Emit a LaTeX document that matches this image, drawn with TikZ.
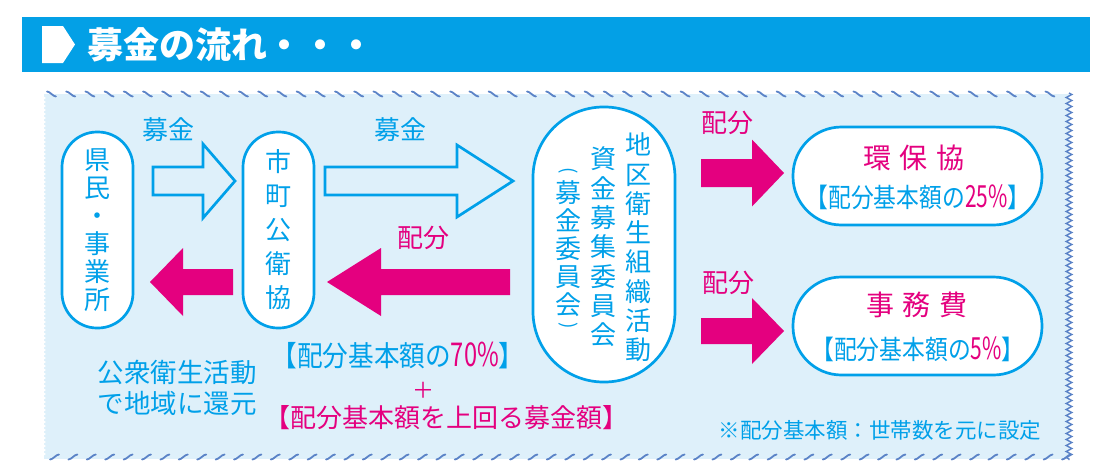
\documentclass[tikz,border=0pt]{standalone}
\usepackage{fontspec}
\newfontfamily\jp{Noto Sans CJK JP}
\usetikzlibrary{calc,decorations.pathmorphing}
\definecolor{cblue}{HTML}{00A0E9}
\definecolor{cbar}{HTML}{03A0E6}
\definecolor{cmag}{HTML}{E4007F}
\definecolor{cbg}{HTML}{DEF0FA}
\definecolor{cwave}{HTML}{5B83C7}
\newcommand\fs[2]{\fontsize{#1}{#2}\selectfont}
\newcommand\pct[1]{\textcolor{cmag}{\scalebox{0.92}[1.15]{#1}}}
\newcommand\blockarrow[6]{%
  \path[#1] let \p1=(#2), \p2=(#3), \n1={ifthenelse(\x2>\x1,1,-1)} in
   (\x1,{\y1-#4pt}) -- ({\x2-\n1*#6pt},{\y1-#4pt}) -- ({\x2-\n1*#6pt},{\y1-#5pt})
   -- (\x2,\y1) -- ({\x2-\n1*#6pt},{\y1+#5pt}) -- ({\x2-\n1*#6pt},{\y1+#4pt})
   -- (\x1,{\y1+#4pt}) -- cycle;}
\begin{document}
\begin{tikzpicture}[x=1pt,y=-1pt,
  every node/.style={font=\jp, inner sep=0pt, outer sep=0pt},
  vbox/.style={draw=cblue, line width=2.7pt, fill=white, rectangle, rounded corners=35pt, minimum width=71pt, minimum height=196pt},
  hbox/.style={draw=cblue, line width=2.7pt, fill=white, rectangle, rounded corners=48.5pt, minimum width=249pt, minimum height=98pt},
  bigbox/.style={draw=cblue, line width=2.7pt, fill=white, rectangle, rounded corners=70.5pt, minimum width=142pt, minimum height=275pt},
  bluetxt/.style={text=cblue},
  magtxt/.style={text=cmag},
  oarrow/.style={draw=cblue, line width=2.7pt, fill=cbg, line join=miter},
  marrow/.style={fill=cmag},
  topmark/.style={draw=cwave, line width=1.8pt, line cap=round}
]
\useasboundingbox (0,0) rectangle (1104,474);
\fill[white] (0,0) rectangle (1104,474);

% title bar
\node[fill=cbar, minimum width=1068pt, minimum height=55pt, anchor=north west] (bar) at (22,17) {};
\fill[white] (42,26) -- (63,26) -- (75,44.5) -- (63,63) -- (42,63) -- cycle;
\node[text=white, font={\jp\bfseries\fs{36}{38}}, anchor=west] (title) at (87,44.5) {募金の流れ・・・};

% panel
\fill[cbg] (44,94) rectangle (1069,459);
\foreach \x in {47,66.2,...,1062} {
  \draw[topmark] (\x,91.5) .. controls ({\x+3},91.5) and ({\x+6},96.5) .. ({\x+9},96.5);
}
\foreach \x in {50,68.4,...,1062} {
  \draw[topmark] (\x,459.5) .. controls ({\x+3},459.5) and ({\x+6},454.5) .. ({\x+9},454.5);
}
\draw[cwave, line width=1.4pt, decorate, decoration={zigzag, amplitude=2.8pt, segment length=6pt}] (1069,93) -- (1069,460);
\draw[white, line width=1pt, decorate, decoration={zigzag, amplitude=1.5pt, segment length=4pt}] (43.5,97) -- (43.5,457);

% boxes
\node[vbox] (kenmin) at (97.5,230) {};
\node[vbox] (shicho) at (278.5,230) {};
\node[bigbox] (big) at (604,244.5) {};
\node[hbox] (kanho) at (917.5,176) {};
\node[hbox] (jimu) at (917.5,326) {};

% box texts
\node[bluetxt, font={\jp\fs{26}{28}}, align=center] (kenmintxt) at (kenmin) {県\\民\\・\\事\\業\\所};
\node[bluetxt, font={\jp\fs{26}{34}}, align=center] (shichotxt) at (shicho) {市\\町\\公\\衛\\協};
\node[bluetxt, font={\jp\fs{26}{29.3}}, align=center] (col1) at (638,247.5) {地\\区\\衛\\生\\組\\織\\活\\動};
\node[bluetxt, font={\jp\fs{26}{29.3}}, align=center] (col2) at (603,247) {資\\金\\募\\集\\委\\員\\会};
\node[bluetxt, font={\jp\fs{26}{28}}, align=center] (col3) at (568,249) {募\\金\\委\\員\\会};
\node[bluetxt, font={\jp\fs{19}{20}}, rotate=-90] (lparen) at (568,171) {(};
\node[bluetxt, font={\jp\fs{19}{20}}, rotate=-90] (rparen) at (568,326) {)};
\node[magtxt, font={\jp\fs{28}{30}}] (kanhot) at (914,158) {環\hspace{9pt}保\hspace{9pt}協};
\node[bluetxt, font={\jp\fs{26.5}{28}}] (kanhop) at (918,197) {\scalebox{0.86}[1]{【配分基本額の\pct{25\%}】}};
\node[magtxt, font={\jp\fs{28}{30}}] (jimut) at (917,305) {事\hspace{9pt}務\hspace{9pt}費};
\node[bluetxt, font={\jp\fs{26.5}{28}}] (jimup) at (918,349) {\scalebox{0.86}[1]{【配分基本額の\pct{5\%}】}};

% connector labels
\node[bluetxt, font={\jp\fs{26}{28}}] (lab1) at (168,130) {募金};
\node[bluetxt, font={\jp\fs{26}{28}}] (lab2) at (400,130) {募金};
\node[magtxt, font={\jp\fs{26}{28}}] (lab3) at (423,238) {配分};
\node[magtxt, font={\jp\fs{26}{28}}] (lab4) at (727,123) {配分};
\node[magtxt, font={\jp\fs{26}{28}}] (lab5) at (728,283) {配分};

% block arrows
\coordinate (a1t) at ($(kenmin.east)+(20,-49)$);
\coordinate (a1h) at ($(shicho.west)+(-8,-49)$);
\coordinate (a2t) at ($(shicho.east)+(11,-49)$);
\coordinate (a2h) at ($(big.west)+(-20,-63.5)$);
\coordinate (m1t) at ($(shicho.west)+(-10,52)$);
\coordinate (m1h) at ($(kenmin.east)+(17,52)$);
\coordinate (m2t) at ($(big.west)+(-23,37.5)$);
\coordinate (m2h) at ($(shicho.east)+(13,52)$);
\coordinate (m3t) at ($(big.east)+(26,-71.5)$);
\coordinate (m3h) at ($(kanho.west)+(-9,-3)$);
\coordinate (m4t) at ($(big.east)+(26,86.5)$);
\coordinate (m4h) at ($(jimu.west)+(-9,5)$);
\blockarrow{oarrow}{a1t}{a1h}{14}{37}{32}
\blockarrow{oarrow}{a2t}{a2h}{14}{36}{56}
\blockarrow{marrow}{m1t}{m1h}{13}{34}{33}
\blockarrow{marrow}{m2t}{m2h}{13}{34}{54}
\blockarrow{marrow}{m3t}{m3h}{14}{33.5}{32}
\blockarrow{marrow}{m4t}{m4h}{13}{33}{32}

% bottom texts
\node[bluetxt, font={\jp\fs{26.5}{31}}, align=center] (kangen) at (177,388) {公衆衛生活動\\で地域に還元};
\node[bluetxt, font={\jp\fs{28.5}{30}}] (p70) at (398,355) {\scalebox{0.9}[1]{【配分基本額の\pct{70\%}】}};
\node[magtxt, font={\jp\fs{22}{24}}] (plus) at (423,390) {＋};
\node[magtxt, font={\jp\fs{26}{28}}] (over) at (446,418) {【配分基本額を上回る募金額】};
\node[bluetxt, font={\jp\fs{21.5}{23}}] (note) at (880,430) {※配分基本額：世帯数を元に設定};
\end{tikzpicture}
\end{document}
